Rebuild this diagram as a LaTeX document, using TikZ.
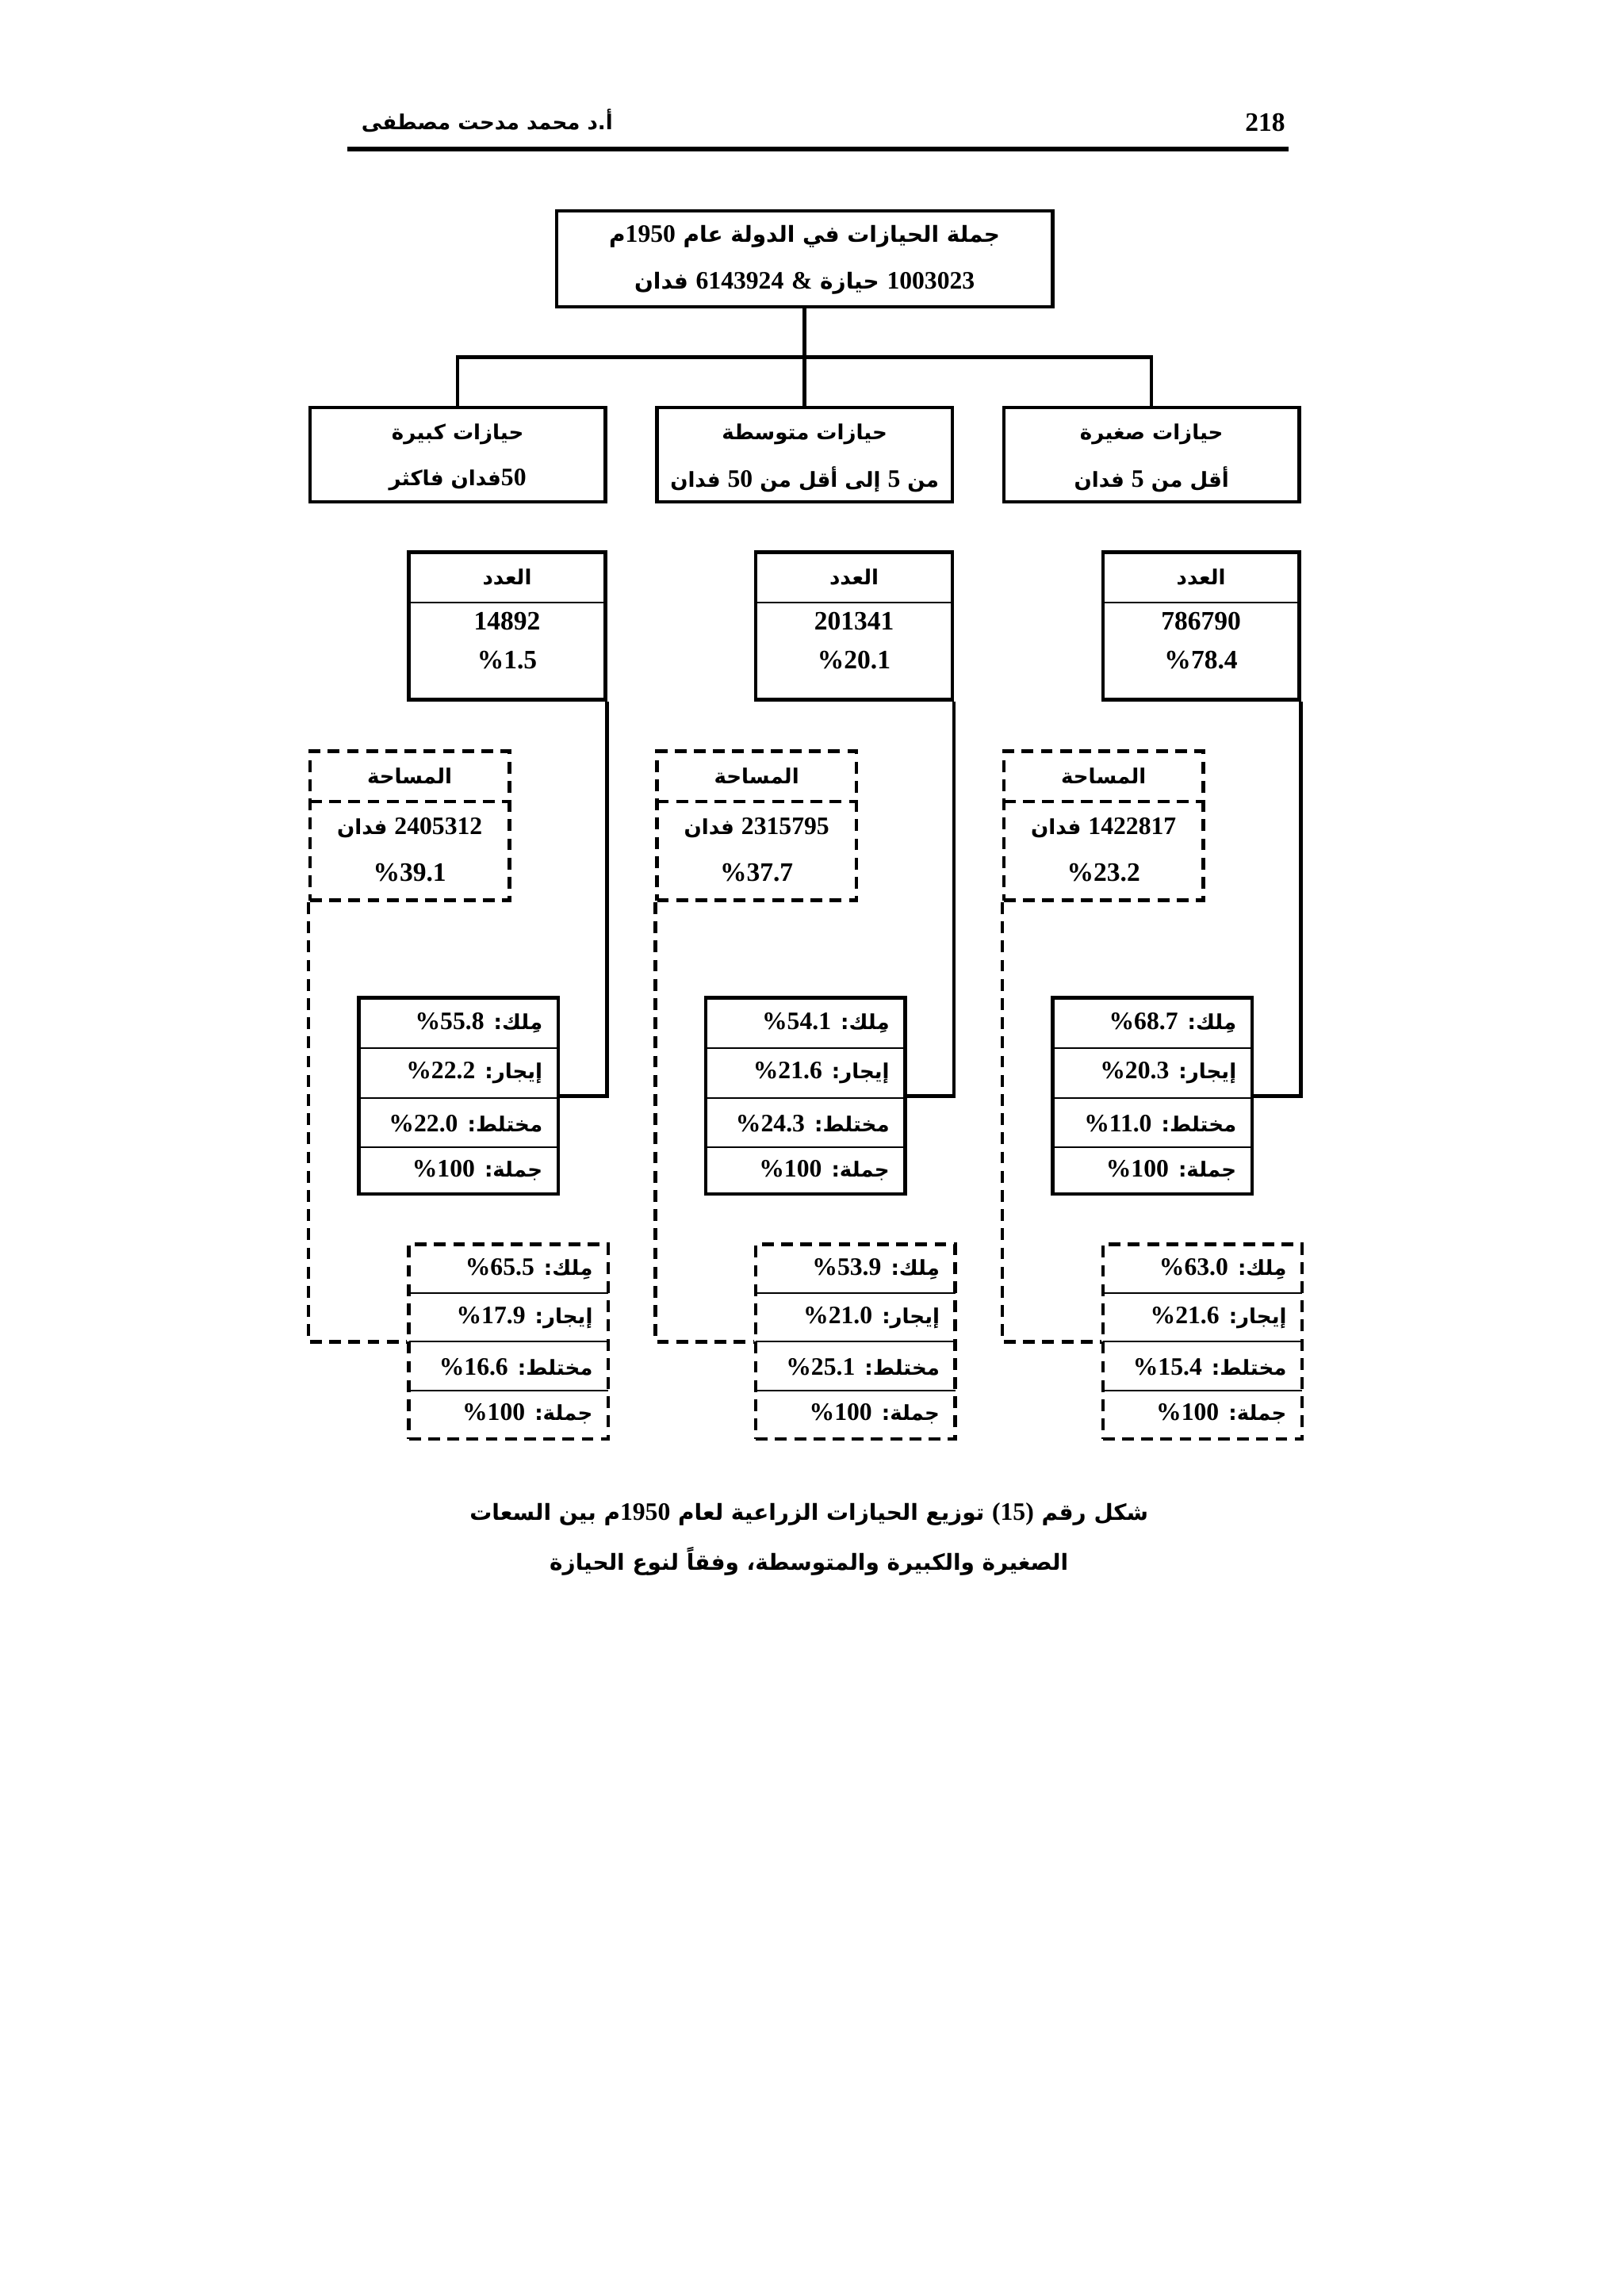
\documentclass[tikz,border=0pt]{standalone}
\usepackage{fontspec}
\setmainfont{Liberation Serif}
\newfontfamily\ar[Script=Arabic]{DejaVu Sans}
\newfontfamily\nm{Liberation Serif}
\TeXXeTstate=1
\newcommand{\Nn}[1]{{\nm\bfseries\fontsize{17}{19}\selectfont\beginL #1\endL}}
\begin{document}
\begin{tikzpicture}[x=1pt,y=-1pt,
  box/.style={draw,line width=2.4pt,inner sep=0pt},
  dbox/.style={draw,line width=2.4pt,dash pattern=on 8pt off 5pt,inner sep=0pt},
  div/.style={line width=1.2pt},
  conn/.style={line width=2.4pt},
  dconn/.style={line width=2.4pt,dash pattern=on 8pt off 5pt},
  artxt/.style={font=\ar\bfseries\fontsize{14}{16}\selectfont},
  bigtxt/.style={font=\ar\bfseries\fontsize{15}{17}\selectfont},
  numtxt/.style={font=\nm\bfseries\fontsize{18}{20}\selectfont}]
\useasboundingbox (0,0) rectangle (1100,1555.5);
\fill[white] (0,0) rectangle (1100,1555.5);
% header
\node[numtxt] (pg) at (857,83) {218};
\node[artxt] (auth) at (330,82) {\beginR أ.د محمد مدحت مصطفى\endR};
\draw[line width=3pt] (235,101) coordinate (hl) -- (873,101) coordinate (hr);
% top box
\node[box,minimum width=336pt,minimum height=65pt] (top) at (545,175.5) {};
\node[bigtxt] (t1) at (545,160) {\beginR جملة الحيازات في الدولة عام \Nn{1950}م\endR};
\node[bigtxt] (t2) at (545,192) {\beginR \Nn{1003023} حيازة \Nn{\&} \Nn{6143924} فدان\endR};
\coordinate (hub) at (545,242);
\foreach \x/\k/\la/\lb/\c/\cp/\a/\ap/\oa/\ob/\oc/\da/\db/\dc in {
 210/L/حيازات كبيرة/\Nn{50}فدان فاكثر/14892/1.5/2405312/39.1/55.8/22.2/22.0/65.5/17.9/16.6,
 445/M/حيازات متوسطة/من \Nn{5} إلى أقل من \Nn{50} فدان/201341/20.1/2315795/37.7/54.1/21.6/24.3/53.9/21.0/25.1,
 680/R/حيازات صغيرة/أقل من \Nn{5} فدان/786790/78.4/1422817/23.2/68.7/20.3/11.0/63.0/21.6/15.4}{
 % category
 \node[box,minimum width=200pt,minimum height=64pt] (cat\k) at (\x+100,308) {};
 \node[artxt] at (\x+100,294) {\beginR \la\endR};
 \node[artxt] at (\x+100,325) {\beginR \lb\endR};
 \draw[conn] (top.south) -- (hub) -| (cat\k.north);
 % count
 \node[box,minimum width=133pt,minimum height=100pt] (cnt\k) at (\x+133.5,424) {};
 \draw[div] (\x+67,408) -- (\x+200,408);
 \node[artxt] at (\x+133.5,391) {\beginR العدد\endR};
 \node[numtxt] at (\x+133.5,421) {\c};
 \node[numtxt] at (\x+133.5,447) {\%\cp};
 % area
 \node[dbox,minimum width=135pt,minimum height=101pt] (area\k) at (\x+67.5,559.5) {};
 \draw[dconn] (\x,543) -- (\x+135,543);
 \node[artxt] at (\x+67.5,526) {\beginR المساحة\endR};
 \node[artxt] at (\x+67.5,561) {\beginR \Nn{\a} فدان\endR};
 \node[numtxt] at (\x+67.5,591) {\%\ap};
 % ownership (count)
 \node[box,minimum width=135pt,minimum height=133pt] (own\k) at (\x+100.5,742.5) {};
 \foreach \yy in {710,744,777} \draw[div] (\x+33,\yy) -- (\x+168,\yy);
 \node[artxt,anchor=east] at (\x+161,693) {\beginR مِلك: \Nn{\%\oa}\endR};
 \node[artxt,anchor=east] at (\x+161,727) {\beginR إيجار: \Nn{\%\ob}\endR};
 \node[artxt,anchor=east] at (\x+161,761) {\beginR مختلط: \Nn{\%\oc}\endR};
 \node[artxt,anchor=east] at (\x+161,793) {\beginR جملة: \Nn{\%100}\endR};
 \draw[conn] (cnt\k.south east) |- (own\k.east);
 % ownership (area)
 \node[dbox,minimum width=135pt,minimum height=132pt] (dwn\k) at (\x+134.5,909) {};
 \foreach \yy in {876,909,942} \draw[div] (\x+67,\yy) -- (\x+202,\yy);
 \node[artxt,anchor=east] at (\x+195,860) {\beginR مِلك: \Nn{\%\da}\endR};
 \node[artxt,anchor=east] at (\x+195,893) {\beginR إيجار: \Nn{\%\db}\endR};
 \node[artxt,anchor=east] at (\x+195,926) {\beginR مختلط: \Nn{\%\dc}\endR};
 \node[artxt,anchor=east] at (\x+195,958) {\beginR جملة: \Nn{\%100}\endR};
 \draw[dconn] (area\k.south west) |- (dwn\k.west);
}
% caption
\node[bigtxt] (cap1) at (548,1026) {\beginR شكل رقم \Nn{(15)} توزيع الحيازات الزراعية لعام \Nn{1950}م بين السعات\endR};
\node[bigtxt] (cap2) at (548,1058) {\beginR الصغيرة والكبيرة والمتوسطة، وفقاً لنوع الحيازة\endR};
\end{tikzpicture}
\end{document}
